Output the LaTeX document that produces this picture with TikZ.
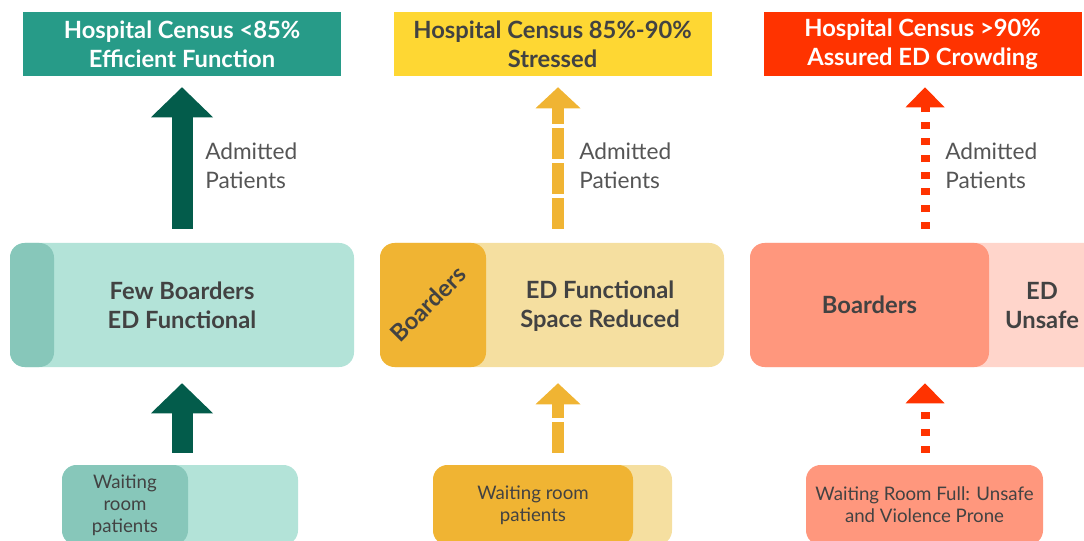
\documentclass[tikz,border=0pt]{standalone}
\usepackage{fontspec}
\setmainfont{Lato}
\usetikzlibrary{positioning,arrows.meta}
\definecolor{tealtop}{HTML}{279B88}
\definecolor{tealdark}{HTML}{035C4B}
\definecolor{teallight}{HTML}{B3E3D8}
\definecolor{tealmid}{HTML}{87C7BA}
\definecolor{yellowtop}{HTML}{FED733}
\definecolor{yellowdark}{HTML}{F0B433}
\definecolor{yellowlight}{HTML}{F5DFA0}
\definecolor{redtop}{HTML}{FF3300}
\definecolor{redmid}{HTML}{FF977D}
\definecolor{redlight}{HTML}{FFD5CB}
\definecolor{ink}{HTML}{424242}
\definecolor{note}{HTML}{555555}

\begin{document}
\begin{tikzpicture}[x=0.75pt,y=-0.75pt,
  box/.style={rectangle,inner sep=0pt,align=center},
  census/.style={box,minimum width=238.5pt,minimum height=48pt,
    font=\bfseries\fontsize{17.8}{21.75}\selectfont},
  ward/.style={box,rounded corners=11pt,minimum height=93pt},
  wait/.style={box,rounded corners=11pt,minimum height=60pt},
  bold/.style={font=\bfseries\fontsize{17.8}{21.75}\selectfont,text=ink,align=center},
  small/.style={font=\fontsize{14}{16.5}\selectfont,text=ink,align=center},
  admit/.style={font=\fontsize{17}{21.75}\selectfont,text=note,align=left,
    anchor=west,inner sep=0pt},
  flow/.style={line width=15.75pt,
    -{Triangle[width=46.5pt,length=22.5pt,line width=0pt]}},
  stress/.style={line width=9pt,dash pattern=on 23.25pt off 3pt,
    -{Triangle[width=33.75pt,length=15.75pt,line width=0pt]}},
  crowd/.style={line width=6.75pt,dash pattern=on 5.25pt off 7.25pt,
    -{Triangle[width=29.25pt,length=15pt,line width=0pt]}},
  up/.style={shorten <=10.5pt,shorten >=8.25pt},
  low/.style={shorten <=9pt,shorten >=12pt}]
\clip (0,0) rectangle (1084,541);

% efficient
\node[census,fill=tealtop,text=white] (T1) at (182,44) {Hospital Census <85\%\\Efficient Function};
\node[ward,fill=teallight,minimum width=258pt] (M1) at (182,305) {};
\node[ward,fill=tealmid,minimum width=33pt,anchor=west] (S1) at (M1.west) {};
\node[bold] (L1) at (M1) {Few Boarders\\ED Functional};
\node[wait,fill=teallight,minimum width=177pt] (W1) at (180,505) {};
\node[wait,fill=tealmid,minimum width=94.5pt,anchor=west] (D1) at (W1.west) {};
\node[small] at (D1) {Waiting\\room\\patients};
\node[admit] (A1) at (205,166) {Admitted\\Patients};
\draw[flow,tealdark,up] (M1.north) -- (T1.south);
\draw[flow,tealdark,low] (M1.south |- W1.north) -- (M1.south);

% stressed
\node[census,fill=yellowtop,text=ink] (T2) at (552.5,44) {Hospital Census 85\%-90\%\\Stressed};
\node[ward,fill=yellowlight,minimum width=258pt] (M2) at (552,305) {};
\node[ward,fill=yellowdark,minimum width=79.5pt,anchor=west] (S2) at (M2.west) {};
\node[bold,rotate=45] at (428,304) {Boarders};
\node[bold] (L2) at (600,306) {ED Functional\\Space Reduced};
\node[wait,fill=yellowlight,minimum width=179.25pt] (W2) at (552.5,505) {};
\node[wait,fill=yellowdark,minimum width=150pt,anchor=west] (D2) at (W2.west) {};
\node[small] at (D2) {Waiting room\\patients};
\node[admit] (A2) at (579,166) {Admitted\\Patients};
\draw[stress,yellowdark,up] ([xshift=4.5pt]M2.north) -- ([xshift=4.5pt]M2.north |- T2.south);
\draw[stress,yellowdark,low] ([xshift=4.5pt]M2.south |- W2.north) -- ([xshift=4.5pt]M2.south);

% crowding
\node[census,fill=redtop,text=white] (T3) at (922.5,44) {Hospital Census >90\%\\Assured ED Crowding};
\node[ward,fill=redlight,minimum width=262.5pt] (M3) at (925,305) {};
\node[ward,fill=redmid,minimum width=179.25pt,anchor=west] (S3) at (M3.west) {};
\node[bold] at (S3) {Boarders};
\node[bold] (L3) at (1042,306) {ED\\Unsafe};
\node[wait,fill=redmid,minimum width=177.75pt] (W3) at (924.5,505) {};
\node[small] at (W3) {Waiting Room Full: Unsafe\\and Violence Prone};
\node[admit] (A3) at (945,166) {Admitted\\Patients};
\draw[crowd,redtop,up] (M3.north) -- (M3.north |- T3.south);
\draw[crowd,redtop,low] (M3.south |- W3.north) -- (M3.south);
\end{tikzpicture}
\end{document}
